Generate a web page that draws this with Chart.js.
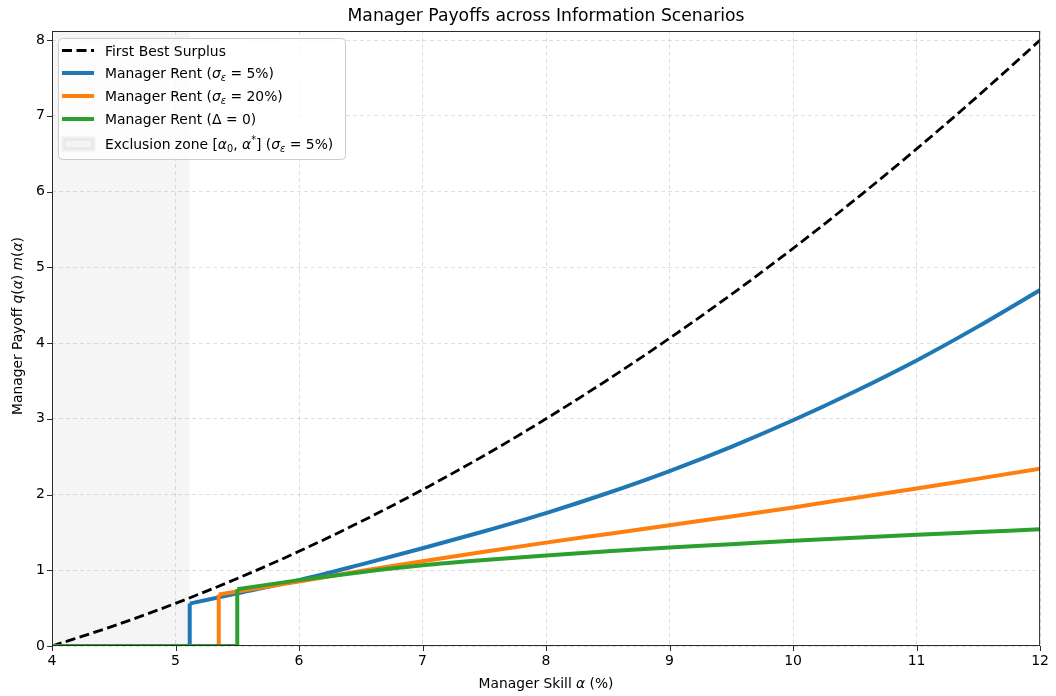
<!DOCTYPE html>
<html>
<head>
<meta charset="utf-8">
<script src="https://cdn.jsdelivr.net/npm/chart.js@4.4.1/dist/chart.umd.min.js"></script>
<style>
  html, body { margin: 0; padding: 0; background: #ffffff; }
  #wrap { width: 1056px; height: 696px; }
</style>
</head>
<body>
<div id="wrap"><canvas id="c" width="1056" height="696"></canvas></div>
<script>
// ---- Data -------------------------------------------------------------
// First-best surplus over manager skill (alpha, %)
const skillGrid = [4, 4.5, 5, 5.5, 6, 6.5, 7, 7.5, 8, 8.5, 9, 9.5, 10, 10.5, 11, 11.5, 12];
const firstBest = [0, 0.266, 0.563, 0.891, 1.25, 1.641, 2.063, 2.516, 3.0, 3.516, 4.063, 4.641,
                   5.25, 5.891, 6.563, 7.266, 8.0];

// Manager rent, sigma_eps = 5% (first point is the entry cutoff)
const skillSigma5 = [5.115, 5.25, 5.5, 6, 6.5, 7, 7.5, 8, 8.5, 9, 9.5, 10, 10.5, 11, 11.5, 12];
const rentSigma5  = [0.56, 0.607, 0.695, 0.87, 1.075, 1.29, 1.515, 1.755, 2.02, 2.31, 2.63, 2.98,
                     3.36, 3.77, 4.22, 4.70];

// Manager rent, sigma_eps = 20%
const skillSigma20 = [5.35, 5.5, 6, 6.5, 7, 7.5, 8, 8.5, 9, 9.5, 10, 10.5, 11, 11.5, 12];
const rentSigma20  = [0.68, 0.72, 0.85, 0.99, 1.12, 1.245, 1.365, 1.48, 1.595, 1.71, 1.83, 1.955,
                      2.08, 2.21, 2.34];

// Manager rent, Delta = 0
const skillNoInfo = [5.5, 6, 6.5, 7, 7.5, 8, 8.5, 9, 9.5, 10, 10.5, 11, 11.5, 12];
const rentNoInfo  = [0.75, 0.87, 0.975, 1.065, 1.135, 1.195, 1.25, 1.30, 1.345, 1.39, 1.43, 1.47,
                     1.505, 1.54];

// Exclusion zone [alpha_0, alpha*] for sigma_eps = 5%
const exclusionZone = [4, 5.115];

const xTicks = [4, 5, 6, 7, 8, 9, 10, 11, 12];
const yTicks = [0, 1, 2, 3, 4, 5, 6, 7, 8];

// ---- Helpers ----------------------------------------------------------
const zip = (xs, ys) => xs.map((x, i) => ({ x: x, y: ys[i] }));
// Rent is zero below the cutoff, then jumps up to the first positive value
const zeroThenJump = (xs, ys) => [{ x: xTicks[0], y: 0 }, { x: xs[0], y: 0 }, { x: xs[0], y: ys[0] }];

const FONT = '"DejaVu Sans", "Liberation Sans", sans-serif';
const C_BLUE = '#1f77b4', C_ORANGE = '#ff7f0e', C_GREEN = '#2ca02c';
const LW = 4;

function drawRich(ctx, x, y, segs, size) {
  for (const s of segs) {
    let fs = size, dy = 0;
    if (s.sub) { fs = size * 0.7; dy = size * 0.22; }
    if (s.sup) { fs = size * 0.7; dy = -size * 0.4; }
    ctx.font = (s.it ? 'italic ' : '') + fs + 'px ' + FONT;
    ctx.fillText(s.t, x, y + dy);
    x += ctx.measureText(s.t).width;
  }
  return x;
}
function richWidth(ctx, segs, size) {
  let w = 0;
  for (const s of segs) {
    const fs = (s.sub || s.sup) ? size * 0.7 : size;
    ctx.font = (s.it ? 'italic ' : '') + fs + 'px ' + FONT;
    w += ctx.measureText(s.t).width;
  }
  return w;
}

const sigmaEps = [{ t: 'σ', it: true }, { t: 'ε', it: true, sub: true }];
const legendRows = [
  { kind: 'dash',  color: '#000000', segs: [{ t: 'First Best Surplus' }] },
  { kind: 'line',  color: C_BLUE,   segs: [{ t: 'Manager Rent (' }].concat(sigmaEps, [{ t: ' = 5%)' }]) },
  { kind: 'line',  color: C_ORANGE, segs: [{ t: 'Manager Rent (' }].concat(sigmaEps, [{ t: ' = 20%)' }]) },
  { kind: 'line',  color: C_GREEN,  segs: [{ t: 'Manager Rent (Δ = 0)' }] },
  { kind: 'patch', color: 'rgba(128,128,128,0.08)', segs: [
      { t: 'Exclusion zone [' }, { t: 'α', it: true }, { t: '0', sub: true }, { t: ', ' },
      { t: 'α', it: true }, { t: '*', sup: true }, { t: '] (' } ].concat(sigmaEps, [{ t: ' = 5%)' }]) }
];

// ---- Plugins ----------------------------------------------------------
const decorations = {
  id: 'decorations',
  beforeDatasetsDraw(chart) {
    const { ctx, chartArea: a, scales: { x } } = chart;
    const x0 = x.getPixelForValue(exclusionZone[0]);
    const x1 = x.getPixelForValue(exclusionZone[1]);
    ctx.save();
    ctx.fillStyle = 'rgba(128,128,128,0.08)';
    ctx.fillRect(x0, a.top, x1 - x0, a.bottom - a.top);
    ctx.restore();
  },
  afterDatasetsDraw(chart) {
    const { ctx, chartArea: a, scales: { x, y } } = chart;
    ctx.save();
    // frame
    ctx.strokeStyle = '#2b2b2b';
    ctx.lineWidth = 1;
    ctx.strokeRect(a.left + 0.5, a.top + 0.5, a.right - a.left - 1, a.bottom - a.top - 1);
    // tick marks
    ctx.beginPath();
    xTicks.forEach(v => { const p = Math.round(x.getPixelForValue(v)) + 0.5; ctx.moveTo(p, a.bottom); ctx.lineTo(p, a.bottom + 5); });
    yTicks.forEach(v => { const p = Math.round(y.getPixelForValue(v)) + 0.5; ctx.moveTo(a.left, p); ctx.lineTo(a.left - 5, p); });
    ctx.stroke();

    // title
    ctx.fillStyle = '#000000';
    ctx.textAlign = 'center';
    ctx.textBaseline = 'middle';
    ctx.font = '17.2px ' + FONT;
    ctx.fillText('Manager Payoffs across Information Scenarios', (a.left + a.right) / 2, 17);

    // axis titles
    ctx.textAlign = 'left';
    ctx.textBaseline = 'alphabetic';
    const xt = [{ t: 'Manager Skill ' }, { t: 'α', it: true }, { t: ' (%)' }];
    const xw = richWidth(ctx, xt, 13.8);
    drawRich(ctx, (a.left + a.right) / 2 - xw / 2, 688, xt, 13.8);

    const yt = [{ t: 'Manager Payoff ' }, { t: 'q', it: true }, { t: '(' }, { t: 'α', it: true }, { t: ')' },
                { t: ' ' }, { t: 'm', it: true }, { t: '(' }, { t: 'α', it: true }, { t: ')' }];
    const yw = richWidth(ctx, yt, 13.8);
    ctx.translate(22, 326);
    ctx.rotate(-Math.PI / 2);
    drawRich(ctx, -yw / 2, 0, yt, 13.8);
    ctx.setTransform(1, 0, 0, 1, 0, 0);

    // legend
    const L = { x: 58.5, y: 38.5, w: 287, h: 121 };
    ctx.fillStyle = 'rgba(255,255,255,0.8)';
    ctx.strokeStyle = '#cccccc';
    ctx.lineWidth = 1;
    ctx.beginPath();
    ctx.roundRect(L.x, L.y, L.w, L.h, 4);
    ctx.fill();
    ctx.stroke();

    const rowY = [50.5, 73, 96, 119, 144];
    legendRows.forEach((r, i) => {
      const cy = rowY[i];
      if (r.kind === 'patch') {
        ctx.fillStyle = r.color;
        ctx.strokeStyle = 'rgba(128,128,128,0.10)';
        ctx.fillRect(63.5, cy - 5.5, 30, 11);
        ctx.strokeRect(63.5, cy - 5.5, 30, 11);
      } else {
        ctx.strokeStyle = r.color;
        ctx.lineWidth = r.kind === 'dash' ? 2.8 : LW;
        ctx.setLineDash(r.kind === 'dash' ? [10, 4.5] : []);
        ctx.beginPath();
        ctx.moveTo(62, cy);
        ctx.lineTo(94, cy);
        ctx.stroke();
        ctx.setLineDash([]);
      }
      ctx.fillStyle = '#000000';
      drawRich(ctx, 105, cy + 5, r.segs, 13.9);
    });
    ctx.restore();
  }
};

// ---- Chart ------------------------------------------------------------
const step = { pointRadius: 0, pointHoverRadius: 0, tension: 0, fill: false, borderJoinStyle: 'miter' };
const smooth = { pointRadius: 0, pointHoverRadius: 0, cubicInterpolationMode: 'monotone', fill: false };

new Chart(document.getElementById('c'), {
  type: 'line',
  data: {
    datasets: [
      Object.assign({ label: 'First Best Surplus', data: zip(skillGrid, firstBest),
        borderColor: '#000000', borderWidth: 2.8, borderDash: [10, 4.5], order: 8 }, smooth),
      Object.assign({ label: 'Manager Rent (σε = 5%)', data: zeroThenJump(skillSigma5, rentSigma5),
        borderColor: C_BLUE, borderWidth: LW, order: 6 }, step),
      Object.assign({ label: 'Manager Rent (σε = 5%)', data: zip(skillSigma5, rentSigma5),
        borderColor: C_BLUE, borderWidth: LW, order: 5 }, smooth),
      Object.assign({ label: 'Manager Rent (σε = 20%)', data: zeroThenJump(skillSigma20, rentSigma20),
        borderColor: C_ORANGE, borderWidth: LW, order: 4 }, step),
      Object.assign({ label: 'Manager Rent (σε = 20%)', data: zip(skillSigma20, rentSigma20),
        borderColor: C_ORANGE, borderWidth: LW, order: 3 }, smooth),
      Object.assign({ label: 'Manager Rent (Δ = 0)', data: zeroThenJump(skillNoInfo, rentNoInfo),
        borderColor: C_GREEN, borderWidth: LW, order: 2 }, step),
      Object.assign({ label: 'Manager Rent (Δ = 0)', data: zip(skillNoInfo, rentNoInfo),
        borderColor: C_GREEN, borderWidth: LW, order: 1 }, smooth)
    ]
  },
  options: {
    responsive: false,
    devicePixelRatio: 1,
    animation: false,
    layout: { padding: { top: 31, right: 14, left: 0, bottom: 0 } },
    plugins: { legend: { display: false }, tooltip: { enabled: false }, title: { display: false } },
    scales: {
      x: {
        type: 'linear', min: 4, max: 12,
        afterFit(s) { s.height = 50; },
        afterBuildTicks(s) { s.ticks = xTicks.map(v => ({ value: v })); },
        grid: { color: 'rgba(176,176,176,0.42)', lineWidth: 1, drawTicks: false },
        border: { display: false, dash: [4, 3] },
        ticks: { color: '#000000', padding: 7, maxRotation: 0, font: { family: FONT, size: 14 } }
      },
      y: {
        type: 'linear', min: 0, max: 8.12,
        afterFit(s) { s.width = 52; },
        afterBuildTicks(s) { s.ticks = yTicks.map(v => ({ value: v })); },
        grid: { color: 'rgba(176,176,176,0.42)', lineWidth: 1, drawTicks: false },
        border: { display: false, dash: [4, 3] },
        ticks: { color: '#000000', padding: 7, font: { family: FONT, size: 14 } }
      }
    }
  },
  plugins: [decorations]
});
</script>
</body>
</html>
